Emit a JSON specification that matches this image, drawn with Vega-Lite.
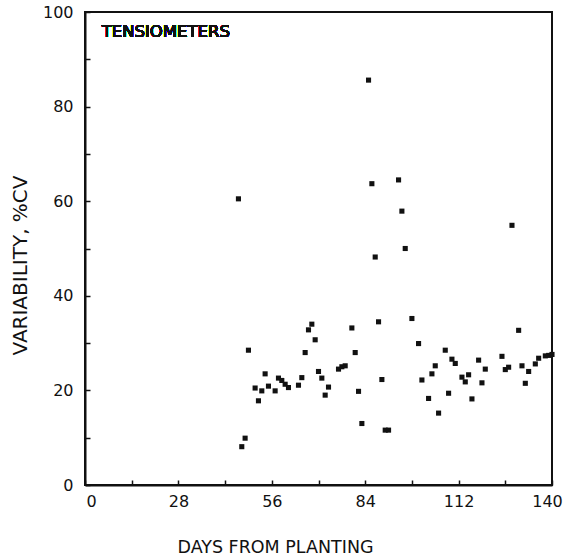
{
  "$schema": "https://vega.github.io/schema/vega-lite/v6.json",
  "width": 467,
  "height": 473,
  "autosize": {"type": "none"},
  "padding": {"left": 85, "top": 12, "right": 13, "bottom": 74},
  "background": "white",
  "config": {
    "view": {"stroke": "#111", "strokeWidth": 2},
    "font": "DejaVu Sans"
  },
  "data": {
    "values": [
      {"day": 46, "cv": 60.5}, {"day": 47, "cv": 8.1}, {"day": 48, "cv": 9.9},
      {"day": 49, "cv": 28.5}, {"day": 51, "cv": 20.5}, {"day": 52, "cv": 17.8},
      {"day": 53, "cv": 19.9}, {"day": 54, "cv": 23.5}, {"day": 55, "cv": 20.9},
      {"day": 57, "cv": 19.9}, {"day": 58, "cv": 22.6}, {"day": 59, "cv": 22.1},
      {"day": 60, "cv": 21.3}, {"day": 61, "cv": 20.6}, {"day": 64, "cv": 21.1},
      {"day": 65, "cv": 22.7}, {"day": 66, "cv": 28.0}, {"day": 67, "cv": 32.8},
      {"day": 68, "cv": 34.0}, {"day": 69, "cv": 30.7}, {"day": 70, "cv": 24.0},
      {"day": 71, "cv": 22.6}, {"day": 72, "cv": 19.0}, {"day": 73, "cv": 20.7},
      {"day": 76, "cv": 24.5}, {"day": 77, "cv": 25.0}, {"day": 78, "cv": 25.2},
      {"day": 80, "cv": 33.2}, {"day": 81, "cv": 28.0}, {"day": 82, "cv": 19.8},
      {"day": 83, "cv": 13.0}, {"day": 85, "cv": 85.6}, {"day": 86, "cv": 63.7},
      {"day": 87, "cv": 48.2}, {"day": 88, "cv": 34.5}, {"day": 89, "cv": 22.3},
      {"day": 90, "cv": 11.6}, {"day": 91, "cv": 11.6}, {"day": 94, "cv": 64.5},
      {"day": 95, "cv": 57.9}, {"day": 96, "cv": 50.0}, {"day": 98, "cv": 35.2},
      {"day": 100, "cv": 29.9}, {"day": 101, "cv": 22.2}, {"day": 103, "cv": 18.3},
      {"day": 104, "cv": 23.5}, {"day": 105, "cv": 25.2}, {"day": 106, "cv": 15.2},
      {"day": 108, "cv": 28.5}, {"day": 109, "cv": 19.4}, {"day": 110, "cv": 26.6},
      {"day": 111, "cv": 25.7}, {"day": 113, "cv": 22.8}, {"day": 114, "cv": 21.8},
      {"day": 115, "cv": 23.3}, {"day": 116, "cv": 18.2}, {"day": 118, "cv": 26.4},
      {"day": 119, "cv": 21.6}, {"day": 120, "cv": 24.5}, {"day": 125, "cv": 27.2},
      {"day": 126, "cv": 24.4}, {"day": 127, "cv": 24.9}, {"day": 128, "cv": 54.9},
      {"day": 130, "cv": 32.7}, {"day": 131, "cv": 25.2}, {"day": 132, "cv": 21.5},
      {"day": 133, "cv": 24.0}, {"day": 135, "cv": 25.6}, {"day": 136, "cv": 26.8},
      {"day": 138, "cv": 27.3}, {"day": 139, "cv": 27.4}, {"day": 140, "cv": 27.6}
    ]
  },
  "layer": [
    {
      "mark": {"type": "point", "shape": "square", "filled": true, "size": 26, "color": "#111", "opacity": 1},
      "encoding": {
        "x": {
          "field": "day", "type": "quantitative",
          "scale": {"domain": [0, 140], "nice": false, "zero": true},
          "axis": {
            "values": [0, 14, 28, 42, 56, 70, 84, 98, 112, 126, 140],
            "labelExpr": "datum.value % 28 === 0 ? datum.label : ''",
            "labelFlush": false,
            "labelOffset": {"expr": "datum.value === 0 ? 6 : datum.value === 140 ? -5 : 0"},
            "grid": false,
            "domainColor": "#111", "domainWidth": 2,
            "tickColor": "#111", "tickWidth": 1.5, "tickSize": -5,
            "labelPadding": 13, "labelFontSize": 16, "labelColor": "#111",
            "title": "DAYS FROM PLANTING",
            "titleFontSize": 17.5, "titleFontWeight": "normal", "titleColor": "#111",
            "titleX": 190, "titleY": 67, "titleAnchor": "middle", "titleBaseline": "alphabetic"
          }
        },
        "y": {
          "field": "cv", "type": "quantitative",
          "scale": {"domain": [0, 100], "nice": false},
          "axis": {
            "values": [0, 10, 20, 30, 40, 50, 60, 70, 80, 90, 100],
            "labelExpr": "datum.value % 20 === 0 ? datum.label : ''",
            "labelFlush": false,
            "grid": false,
            "domainColor": "#111", "domainWidth": 2,
            "tickColor": "#111", "tickWidth": 1.5, "tickSize": -5,
            "labelPadding": 17, "labelFontSize": 16, "labelColor": "#111",
            "title": "VARIABILITY, %CV",
            "titleFontSize": 20, "titleFontWeight": "normal", "titleColor": "#111",
            "titleX": -59, "titleY": 253, "titleAnchor": "middle", "titleAngle": -90, "titleBaseline": "alphabetic"
          }
        }
      }
    },
    {
      "mark": {"type": "text", "text": "TENSIOMETERS", "align": "left", "baseline": "middle", "fontSize": 16.5, "color": "#111", "font": "DejaVu Sans"},
      "encoding": {
        "x": {"datum": 5, "type": "quantitative"},
        "y": {"datum": 95.7, "type": "quantitative"}
      }
    }
  ]
}
